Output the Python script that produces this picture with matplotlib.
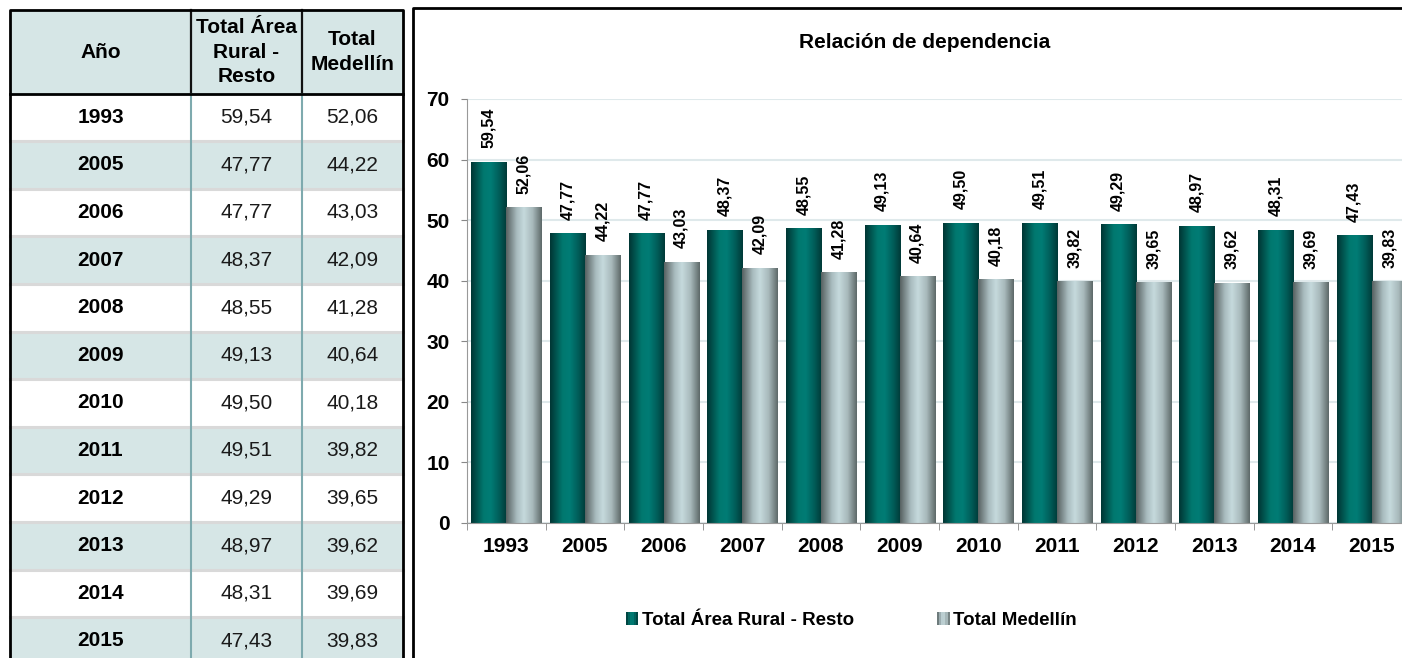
import numpy as np
import matplotlib
matplotlib.use("Agg")
import matplotlib.pyplot as plt
from matplotlib.colors import LinearSegmentedColormap
from matplotlib.patches import Rectangle, Patch
from matplotlib.legend_handler import HandlerBase

plt.rcParams['font.family'] = ['Liberation Sans', 'DejaVu Sans']

# ---- data
years = ['1993', '2005', '2006', '2007', '2008', '2009', '2010', '2011', '2012', '2013', '2014', '2015']
rural = [59.54, 47.77, 47.77, 48.37, 48.55, 49.13, 49.50, 49.51, 49.29, 48.97, 48.31, 47.43]
medellin = [52.06, 44.22, 43.03, 42.09, 41.28, 40.64, 40.18, 39.82, 39.65, 39.62, 39.69, 39.83]
series_names = ['Total Área Rural - Resto', 'Total Medellín']
col_headers = ['Año', 'Total Área\nRural -\nResto', 'Total\nMedellín']
title = 'Relación de dependencia'

def fmt(v):
    return f"{v:.2f}".replace('.', ',')

teal_cmap = LinearSegmentedColormap.from_list(
    'teal', [(0, '#003634'), (0.35, '#00786f'), (0.55, '#007c75'), (0.8, '#005c58'), (1, '#003a38')])
gray_cmap = LinearSegmentedColormap.from_list(
    'gray', [(0, '#586262'), (0.3, '#a9bcbf'), (0.5, '#c6dadd'), (0.75, '#a7b8ba'), (1, '#5f6a6a')])
grad = np.linspace(0, 1, 64).reshape(1, -1)

W, H = 1402, 658
fig = plt.figure(figsize=(W / 100, H / 100), dpi=100)

# ---- chart
x0, x1 = 467, 1411
y_top, y_bot = 99, 523
ax = fig.add_axes([x0 / W, 1 - y_bot / H, (x1 - x0) / W, (y_bot - y_top) / H])

x = np.arange(len(years))
bw = 0.445
b1 = ax.bar(x - bw / 2, rural, bw, color='none', zorder=3)
b2 = ax.bar(x + bw / 2, medellin, bw, color='none', zorder=3)
for bars, cmap in ((b1, teal_cmap), (b2, gray_cmap)):
    for p in bars:
        ax.imshow(grad, cmap=cmap, aspect='auto', zorder=2,
                  extent=[p.get_x(), p.get_x() + p.get_width(), 0, p.get_height()])

for bars, vals in ((b1, rural), (b2, medellin)):
    for p, v in zip(bars, vals):
        ax.text(p.get_x() + p.get_width() / 2, v + 2.3, fmt(v), rotation=90,
                ha='center', va='bottom', fontsize=11.5, fontweight='bold', zorder=4)

ax.set_xlim(-0.5, len(years) - 0.5)
ax.set_ylim(0, 70)
ax.set_yticks(range(0, 71, 10))
ax.set_xticks(x)
ax.set_xticklabels(years)
ax.set_xticks(np.arange(-0.5, len(years), 1), minor=True)
ax.tick_params(axis='x', which='major', length=0, pad=10, labelsize=15)
ax.tick_params(axis='x', which='minor', length=5, color='#888888')
ax.tick_params(axis='y', length=4.5, color='#888888', pad=8, labelsize=15)
for lab in ax.get_xticklabels() + ax.get_yticklabels():
    lab.set_fontweight('bold')
ax.grid(axis='y', color='#dfe9eb', linewidth=1.5, zorder=0)
ax.set_axisbelow(True)
for s in ['top', 'right']:
    ax.spines[s].set_visible(False)
ax.spines['left'].set_color('#999999')
ax.spines['bottom'].set_color('#999999')
ax.set_facecolor('none')


class GradHandler(HandlerBase):
    def __init__(self, cmap):
        super().__init__()
        self.cmap = cmap

    def create_artists(self, legend, orig_handle, xdescent, ydescent, width, height, fontsize, trans):
        n = 6
        side = height * 0.95
        sw = side / n
        out = []
        for i in range(n):
            r = Rectangle((width - side + i * sw, 0), sw, side, transform=trans,
                          facecolor=self.cmap((i + 0.5) / n), edgecolor='none')
            out.append(r)
        return out


h1 = Patch(label=series_names[0])
h2 = Patch(label=series_names[1])
fig.legend(handles=[h1, h2], loc='center', bbox_to_anchor=(851 / W, 1 - 620 / H),
           ncol=2, frameon=False, handlelength=0.7, handletextpad=0.2, columnspacing=4.4,
           prop={'weight': 'bold', 'size': 13.5},
           handler_map={h1: GradHandler(teal_cmap), h2: GradHandler(gray_cmap)})

# ---- table and frames (pixel overlay)
ov = fig.add_axes([0, 0, 1, 1], zorder=-1)
ov.set_xlim(0, W)
ov.set_ylim(H, 0)
ov.axis('off')

tl, tr, tt, th = 10, 403, 10, 93.5
c1, c2 = 191, 302
row_h = 47.6
light = '#d6e6e6'

ov.add_patch(Rectangle((tl, tt), tr - tl, th - tt, facecolor=light, edgecolor='none'))
for i in range(len(years)):
    y = th + i * row_h
    if i % 2 == 1:
        ov.add_patch(Rectangle((tl, y), tr - tl, row_h, facecolor=light, edgecolor='none'))
    if i > 0:
        ov.plot([tl, tr], [y, y], color='#d9d9d9', lw=2.2)
    yc = y + row_h / 2
    ov.text((tl + c1) / 2, yc, years[i], ha='center', va='center', fontsize=15, fontweight='bold')
    ov.text((c1 + c2) / 2, yc, fmt(rural[i]), ha='center', va='center', fontsize=15, color='#1a1a1a')
    ov.text((c2 + tr) / 2, yc, fmt(medellin[i]), ha='center', va='center', fontsize=15, color='#1a1a1a')

for cx in (c1, c2):
    ov.plot([cx, cx], [tt, th], color='#111111', lw=1.6)
    ov.plot([cx, cx], [th, H], color='#7eaaae', lw=1.5)

hx = [(tl + c1) / 2, (c1 + c2) / 2, (c2 + tr) / 2]
for cx, txt in zip(hx, col_headers):
    ov.text(cx, 52, txt, ha='center', va='center', fontsize=15,
            fontweight='bold', linespacing=1.38)

ov.plot([tl, tr], [th, th], color='black', lw=2)
ov.plot([tl, tl, tr, tr], [H + 5, tt, tt, H + 5], color='black', lw=2)

# chart frame
ov.plot([413, 413, W + 5], [H + 5, 8, 8], color='black', lw=2)
fig.text(925 / W, 1 - 42 / H, title, ha='center', va='center', fontsize=15, fontweight='bold')

fig.savefig('out.png', dpi=100)
